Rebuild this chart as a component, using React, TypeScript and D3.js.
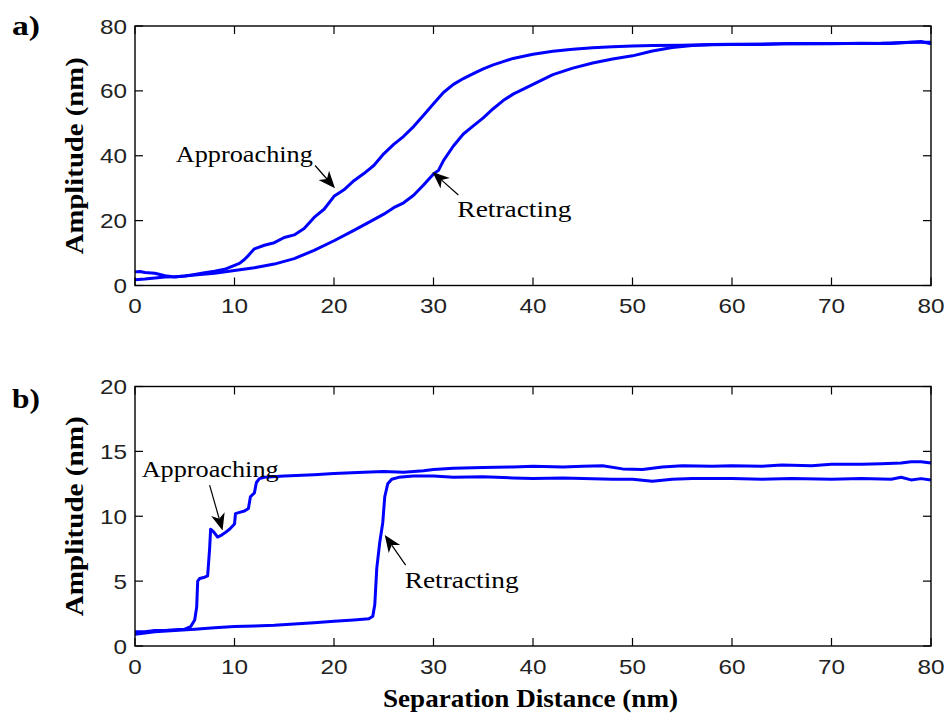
import React from 'react';
import * as d3 from 'd3';

// ---------- DATA ----------
const xTicks = [0, 10, 20, 30, 40, 50, 60, 70, 80];
const aYTicks = [0, 20, 40, 60, 80];
const bYTicks = [0, 5, 10, 15, 20];

const aApproach: [number, number][] = [
  [0, 4.2], [0.5, 4.3], [1, 4.0], [2, 3.8], [3, 3.0], [4, 2.6], [5, 2.9], [6, 3.4], [7, 3.9], [8, 4.4],
  [9, 5.0], [10, 6.2], [10.5, 6.8], [11, 8.0], [11.5, 9.6], [12, 11.3], [13, 12.4], [14, 13.2], [15, 14.8],
  [16, 15.6], [17, 17.6], [18, 21.0], [19, 23.5], [20, 27.5], [21, 29.5], [22, 32.3], [23, 34.5], [24, 37.0],
  [25, 40.6], [26, 43.5], [27, 46.0], [28, 49.0], [29, 52.5], [30, 56.0], [31, 59.5], [32, 62.0], [33, 63.8],
  [34, 65.3], [35, 66.8], [36, 68.0], [37, 69.0], [38, 70.0], [40, 71.3], [42, 72.2], [44, 72.8], [46, 73.3],
  [48, 73.6], [50, 73.8], [52, 74.0], [55, 74.1], [58, 74.3], [60, 74.4], [63, 74.3], [66, 74.6], [70, 74.5],
  [73, 74.7], [76, 74.6], [78, 75.0], [79, 75.2], [80, 74.5],
];

const aRetract: [number, number][] = [
  [0, 1.8], [1, 2.0], [2, 2.3], [3, 2.6], [4, 2.7], [5, 2.9], [6, 3.2], [8, 3.8], [10, 4.6], [12, 5.5],
  [14, 6.6], [16, 8.3], [18, 10.8], [20, 13.8], [22, 17.0], [24, 20.3], [25, 22.0], [26, 24.0], [27, 25.5],
  [28, 27.8], [29, 31.0], [30, 34.4], [30.5, 35.5], [31, 38.5], [32, 43.0], [33, 46.7], [34, 49.2], [35, 51.7],
  [36, 54.5], [37, 57.0], [38, 59.0], [40, 62.0], [42, 65.0], [44, 67.0], [46, 68.6], [48, 69.8], [50, 70.8],
  [52, 72.3], [54, 73.4], [56, 74.0], [58, 74.2], [60, 74.3], [65, 74.5], [70, 74.6], [75, 74.7], [78, 75.0],
  [80, 75.0],
];

const bApproach: [number, number][] = [
  [0, 1.1], [1, 1.1], [2, 1.2], [3, 1.2], [4, 1.25], [5, 1.3], [5.6, 1.5], [6.0, 2.0], [6.2, 3.0], [6.3, 5.0],
  [6.5, 5.2], [7.0, 5.3], [7.3, 5.4], [7.5, 7.5], [7.6, 9.0], [7.9, 8.8], [8.3, 8.4], [8.6, 8.5], [9.0, 8.7],
  [9.5, 9.0], [10.0, 9.4], [10.1, 10.2], [10.5, 10.3], [11.0, 10.4], [11.4, 10.6], [11.6, 11.5], [12.0, 11.8],
  [12.2, 12.6], [12.5, 12.9], [13, 13.0], [15, 13.1], [18, 13.2], [20, 13.3], [23, 13.4], [25, 13.45],
  [27, 13.4], [29, 13.5], [30, 13.6], [32, 13.7], [35, 13.75], [38, 13.8], [40, 13.85], [43, 13.8], [45, 13.85],
  [47, 13.9], [49, 13.65], [51, 13.6], [53, 13.8], [55, 13.9], [58, 13.85], [60, 13.9], [63, 13.85], [65, 13.95],
  [68, 13.9], [70, 14.0], [73, 14.0], [75, 14.05], [77, 14.1], [78, 14.2], [79, 14.2], [80, 14.1],
];

const bRetract: [number, number][] = [
  [0, 0.9], [1, 1.0], [2, 1.1], [4, 1.2], [6, 1.3], [8, 1.4], [10, 1.5], [12, 1.55], [14, 1.6], [16, 1.7],
  [18, 1.8], [20, 1.9], [22, 2.0], [23.5, 2.1], [23.9, 2.3], [24.1, 3.2], [24.3, 6.0], [24.6, 8.0], [24.9, 9.5],
  [25.1, 11.5], [25.4, 12.5], [25.8, 12.85], [26.5, 13.0], [28, 13.1], [30, 13.1], [32, 13.0], [35, 13.05],
  [38, 12.95], [40, 12.9], [43, 12.95], [45, 12.9], [48, 12.85], [50, 12.85], [52, 12.7], [54, 12.85], [56, 12.9],
  [60, 12.9], [63, 12.85], [66, 12.9], [70, 12.85], [73, 12.9], [76, 12.85], [77, 13.0], [78, 12.8], [79, 12.9],
  [80, 12.8],
];

type Ann = { label: string; tx: number; ty: number; x0: number; y0: number; x1: number; y1: number };
const aAnnotations: Ann[] = [
  { label: 'Approaching', tx: 4.1, ty: 38.1, x0: 18.1, y0: 37.0, x1: 20.1, y1: 30.0 },
  { label: 'Retracting', tx: 32.4, ty: 21.1, x0: 32.5, y0: 27.9, x1: 29.9, y1: 35.0 },
];
const bAnnotations: Ann[] = [
  { label: 'Approaching', tx: 0.67, ty: 13.0, x0: 7.5, y0: 12.4, x1: 8.8, y1: 8.9 },
  { label: 'Retracting', tx: 27.1, ty: 4.47, x0: 27.2, y0: 6.24, x1: 25.1, y1: 8.55 },
];

// ---------- LAYOUT ----------
const W = 948;
const H = 718;
const left = 135;
const right = 931;
const serif = '"Liberation Serif", "Times New Roman", Times, serif';
const sans = '"Liberation Sans", Arial, Helvetica, sans-serif';
const BLUE = '#0000ff';

type PanelProps = {
  top: number;
  bottom: number;
  yMax: number;
  yTicks: number[];
  series: [number, number][][];
  anns: Ann[];
  panelLabel: string;
  panelLabelY: number;
  yLabelLen: number;
};

function Arrow({ x0, y0, x1, y1 }: { x0: number; y0: number; x1: number; y1: number }) {
  const ang = Math.atan2(y1 - y0, x1 - x0);
  const len = 17;
  const hw = 7;
  const bx = x1 - len * Math.cos(ang);
  const by = y1 - len * Math.sin(ang);
  const nx = -Math.sin(ang);
  const ny = Math.cos(ang);
  const notchX = x1 - len * 0.72 * Math.cos(ang);
  const notchY = y1 - len * 0.72 * Math.sin(ang);
  const pts = [
    [x1, y1],
    [bx + nx * hw, by + ny * hw],
    [notchX, notchY],
    [bx - nx * hw, by - ny * hw],
  ]
    .map((p) => p.join(','))
    .join(' ');
  return (
    <g>
      <line x1={x0} y1={y0} x2={notchX} y2={notchY} stroke="#000" strokeWidth={1.2} />
      <polygon points={pts} fill="#000" />
    </g>
  );
}

function Panel({ top, bottom, yMax, yTicks, series, anns, panelLabel, panelLabelY, yLabelLen }: PanelProps) {
  const x = d3.scaleLinear().domain([0, 80]).range([left, right]);
  const y = d3.scaleLinear().domain([0, yMax]).range([bottom, top]);
  const line = d3
    .line<[number, number]>()
    .x((d) => x(d[0]))
    .y((d) => y(d[1]));
  const tl = 8;
  const mid = (top + bottom) / 2;
  return (
    <g>
      <rect x={left} y={top} width={right - left} height={bottom - top} fill="#fff" />
      {series.map((s, i) => (
        <path key={i} d={line(s) || ''} fill="none" stroke={BLUE} strokeWidth={3} strokeLinejoin="round" />
      ))}
      {xTicks.map((t) => (
        <g key={'x' + t}>
          <line x1={x(t)} x2={x(t)} y1={bottom} y2={bottom - tl} stroke="#000" strokeWidth={1.2} />
          <line x1={x(t)} x2={x(t)} y1={top} y2={top + tl} stroke="#000" strokeWidth={1.2} />
          <text
            x={x(t)}
            y={bottom + 27.5}
            textAnchor="middle"
            fontFamily={sans}
            fontSize={21}
            fill="#222"
            textLength={String(t).length * 13.5}
            lengthAdjust="spacingAndGlyphs"
          >
            {t}
          </text>
        </g>
      ))}
      {yTicks.map((t) => (
        <g key={'y' + t}>
          <line x1={left} x2={left + tl} y1={y(t)} y2={y(t)} stroke="#000" strokeWidth={1.2} />
          <line x1={right} x2={right - tl} y1={y(t)} y2={y(t)} stroke="#000" strokeWidth={1.2} />
          <text
            x={127}
            y={y(t)}
            dy="0.36em"
            textAnchor="end"
            fontFamily={sans}
            fontSize={21}
            fill="#222"
            textLength={String(t).length * 13.5}
            lengthAdjust="spacingAndGlyphs"
          >
            {t}
          </text>
        </g>
      ))}
      <rect x={left} y={top} width={right - left} height={bottom - top} fill="none" stroke="#000" strokeWidth={1.4} />
      {anns.map((a, i) => (
        <g key={'a' + i}>
          <text
            x={x(a.tx)}
            y={y(a.ty)}
            fontFamily={serif}
            fontSize={24}
            fill="#000"
            textLength={a.label === 'Approaching' ? 137 : 114}
            lengthAdjust="spacingAndGlyphs"
          >
            {a.label}
          </text>
          <Arrow x0={x(a.x0)} y0={y(a.y0)} x1={x(a.x1)} y1={y(a.y1)} />
        </g>
      ))}
      <text
        transform={`translate(83,${mid}) rotate(-90)`}
        textAnchor="middle"
        fontFamily={serif}
        fontWeight="bold"
        fontSize={25}
        fill="#000"
        textLength={yLabelLen}
        lengthAdjust="spacingAndGlyphs"
      >
        Amplitude (nm)
      </text>
      <text
        x={12}
        y={panelLabelY}
        fontFamily={serif}
        fontWeight="bold"
        fontSize={28}
        fill="#000"
        textLength={28}
        lengthAdjust="spacingAndGlyphs"
      >
        {panelLabel}
      </text>
    </g>
  );
}

export default function App() {
  return (
    <svg
      width={W}
      height={H}
      viewBox={`0 0 ${W} ${H}`}
      style={{ position: 'absolute', left: 0, top: 0, background: '#fff' }}
    >
      <rect width={W} height={H} fill="#fff" />
      <Panel
        top={26}
        bottom={285.5}
        yMax={80}
        yTicks={aYTicks}
        series={[aRetract, aApproach]}
        anns={aAnnotations}
        panelLabel="a)"
        panelLabelY={35}
        yLabelLen={197}
      />
      <Panel
        top={386.5}
        bottom={646}
        yMax={20}
        yTicks={bYTicks}
        series={[bRetract, bApproach]}
        anns={bAnnotations}
        panelLabel="b)"
        panelLabelY={408}
        yLabelLen={200}
      />
      <text
        x={383}
        y={707}
        fontFamily={serif}
        fontWeight="bold"
        fontSize={25}
        fill="#000"
        textLength={295}
        lengthAdjust="spacingAndGlyphs"
      >
        Separation Distance (nm)
      </text>
    </svg>
  );
}
